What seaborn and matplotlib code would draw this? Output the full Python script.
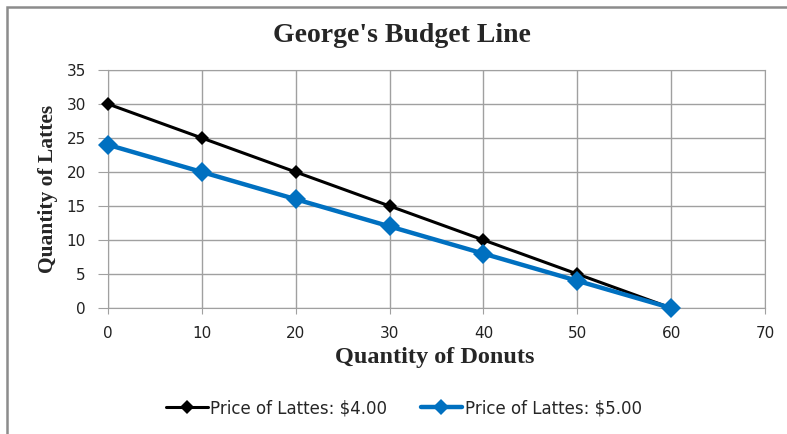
import pandas as pd
import seaborn as sns
import matplotlib.pyplot as plt
from matplotlib.patches import Rectangle

# Datos
donuts = [0, 10, 20, 30, 40, 50, 60]
lattes_4 = [30, 25, 20, 15, 10, 5, 0]
lattes_5 = [24, 20, 16, 12, 8, 4, 0]
series = ["Price of Lattes: $4.00", "Price of Lattes: $5.00"]
colores = ["#000000", "#0070C0"]

df = pd.DataFrame({
    "Donuts": donuts * 2,
    "Lattes": lattes_4 + lattes_5,
    "Serie": [series[0]] * len(donuts) + [series[1]] * len(donuts),
})

sns.set_style("white")
plt.rcParams["font.family"] = ["DejaVu Sans"]

W, H = 787, 434
fig = plt.figure(figsize=(W / 100, H / 100), dpi=100)
ax = fig.add_axes([108 / W, 1 - 308 / H, (765 - 108) / W, (308 - 70) / H])

sns.lineplot(data=df, x="Donuts", y="Lattes", hue="Serie", style="Serie",
             palette=colores, markers=["D", "D"], dashes=False,
             size="Serie", sizes=[2.2, 3.2], ax=ax, legend=False)
# tamaño de marcadores por serie, sin recorte en los bordes
for linea, ms in zip(ax.get_lines(), [7, 10]):
    linea.set_markersize(ms)
    linea.set_markeredgewidth(0)
    linea.set_clip_on(False)
    linea.set_zorder(3)

ax.set_xlim(0, 70)
ax.set_ylim(0, 35)
ax.set_xticks(range(0, 71, 10))
ax.set_yticks(range(0, 36, 5))
ax.grid(True, color="#a0a0a0", linewidth=1)
for s in ax.spines.values():
    s.set_color("#a0a0a0")
ax.tick_params(axis="x", labelsize=11, colors="#a0a0a0", labelcolor="#222222",
               length=4, pad=9, direction="out", bottom=True)
ax.tick_params(axis="y", labelsize=11, colors="#a0a0a0", labelcolor="#222222",
               length=7, pad=9, direction="out", left=True)
ax.set_xlabel("")
ax.set_ylabel("")

serif = "Liberation Serif"
fig.text(402 / W, 1 - 36 / H, "George's Budget Line", ha="center", va="center",
         fontsize=20, fontweight="bold", family=serif)
fig.text(435 / W, 1 - 357 / H, "Quantity of Donuts", ha="center", va="center",
         fontsize=17.5, fontweight="bold", family=serif)
fig.text(48 / W, 1 - 189 / H, "Quantity of Lattes", ha="center", va="center",
         rotation=90, fontsize=15.5, fontweight="bold", family=serif)

# Leyenda inferior
handles = [plt.Line2D([], [], color=c, marker="D", lw=lw, ms=ms, mew=0)
           for c, lw, ms in zip(colores, [2.2, 3.2], [7, 8])]
fig.legend(handles, series, loc="center", bbox_to_anchor=(404 / W, 1 - 408 / H),
           ncol=2, frameon=False, fontsize=12, handlelength=2.5, columnspacing=2.0,
           handletextpad=0.15, borderpad=0)

# Marco del gráfico
fig.patches.append(Rectangle((7 / W, -0.05), 1.0, 1 - 7 / H + 0.05,
                             transform=fig.transFigure, fill=False,
                             edgecolor="#8c8c8c", linewidth=1.8))

fig.savefig("out.png", dpi=100)
